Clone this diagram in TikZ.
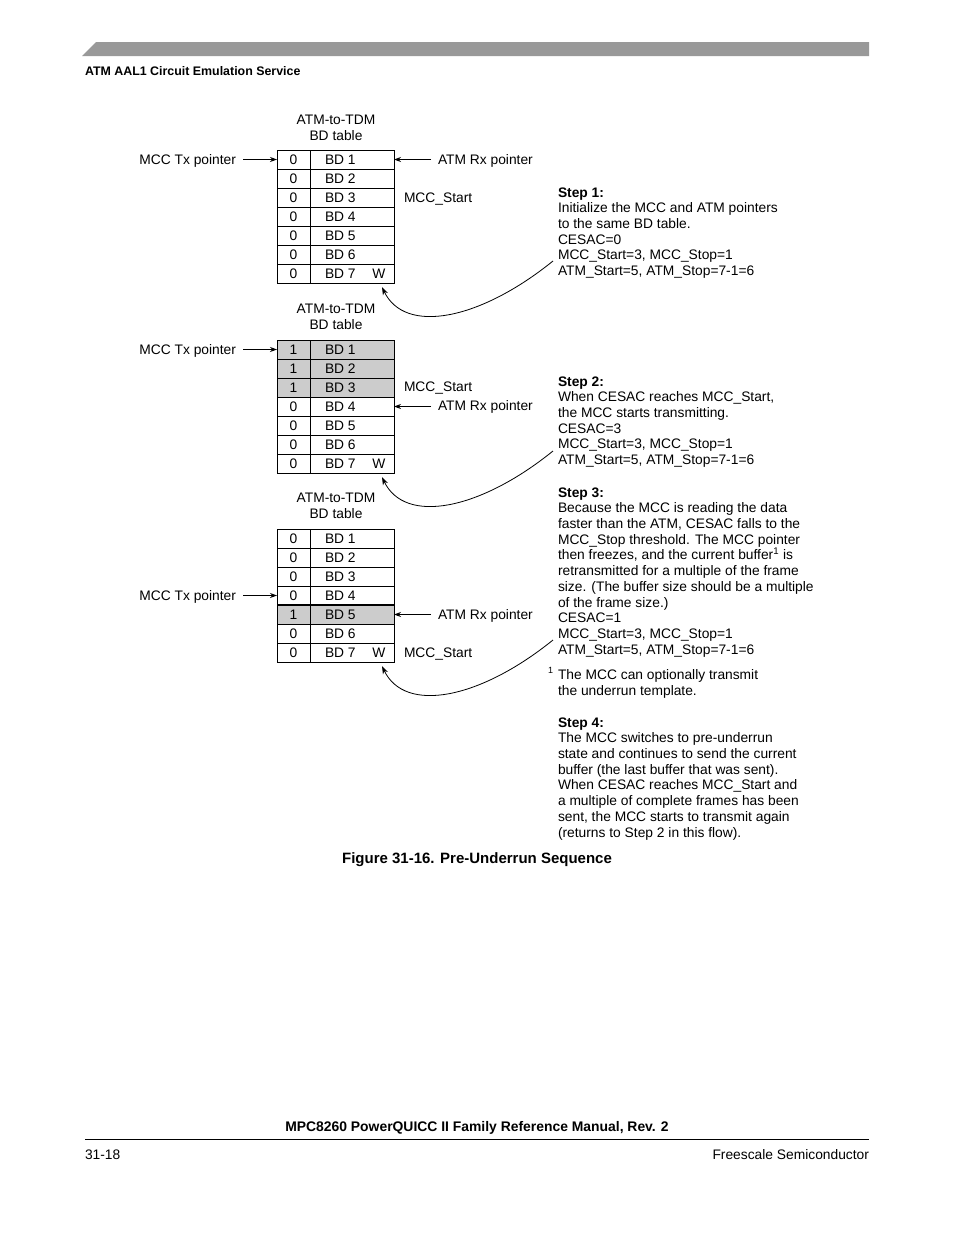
\documentclass[tikz,border=0pt]{standalone}
\usepackage{fontspec}
\setmainfont{Liberation Sans}
\usetikzlibrary{arrows.meta}
\definecolor{rowgray}{HTML}{CCCCCC}
\definecolor{bargray}{HTML}{999999}
\begin{document}
\begin{tikzpicture}[x=1pt,y=-1pt,
  font=\fontsize{13.8}{15.7}\selectfont,
  every node/.style={inner sep=0pt, outer sep=0pt},
  rowbox/.style={draw, line width=0.8pt, minimum width=117pt, minimum height=19pt},
  txt/.style={anchor=base},
  bdtxt/.style={anchor=base west},
  lbl/.style={anchor=base west},
  lble/.style={anchor=base east},
  hdr/.style={align=center},
  steptxt/.style={anchor=north west, align=left},
  arr/.style={line width=0.8pt, -{Stealth[length=7pt,width=5pt]}},
  curv/.style={line width=0.8pt, -{Stealth[length=8pt,width=5.5pt]}}
]
\useasboundingbox[fill=white] (0,0) rectangle (954,1235);

% page header
\fill[bargray] (82,56) -- (96,42) -- (869,42) -- (869,56) -- cycle;
\node[anchor=base west, font=\fontsize{12.4}{14}\selectfont\bfseries] (pghead) at (85,75.5) {ATM AAL1 Circuit Emulation Service};

% ---------- Table 1 ----------
\node[hdr] (h1) at (336,127.5) {ATM-to-TDM\\BD table};
\foreach \i/\v/\f in {1/0/white,2/0/white,3/0/white,4/0/white,5/0/white,6/0/white,7/0/white}{
  \pgfmathsetmacro\yc{150+19*\i-9.5}
  \node[rowbox, fill=\f] (a\i) at (335.5,\yc) {};
  \node[txt] at (293.5,\yc+5) {\v};
  \node[bdtxt] at (325,\yc+5) {BD \i};
}
\draw[line width=0.8pt] (a1.north west -| 310,0) -- (a7.south west -| 310,0);
\node[txt] (w1) at (379,278.5) {W};
\node[lble] (mtx1) at (236,164.5) {MCC Tx pointer};
\draw[arr] ([xshift=7pt]mtx1.east |- a1.west) -- (a1.west);
\node[lbl] (arx1) at (438,164.5) {ATM Rx pointer};
\draw[arr] ([xshift=-7pt]arx1.west |- a1.east) -- (a1.east);
\node[lbl] (ms1) at (404,202.5) {MCC\_Start};

% ---------- Table 2 ----------
\node[hdr] (h2) at (336,316.5) {ATM-to-TDM\\BD table};
\foreach \i/\v/\f in {1/1/rowgray,2/1/rowgray,3/1/rowgray,4/0/white,5/0/white,6/0/white,7/0/white}{
  \pgfmathsetmacro\yc{340+19*\i-9.5}
  \node[rowbox, fill=\f] (b\i) at (335.5,\yc) {};
  \node[txt] at (293.5,\yc+5) {\v};
  \node[bdtxt] at (325,\yc+5) {BD \i};
}
\draw[line width=0.8pt] (b1.north west -| 310,0) -- (b7.south west -| 310,0);
\node[txt] (w2) at (379,468.5) {W};
\node[lble] (mtx2) at (236,354.5) {MCC Tx pointer};
\draw[arr] ([xshift=7pt]mtx2.east |- b1.west) -- (b1.west);
\node[lbl] (ms2) at (404,391.5) {MCC\_Start};
\node[lbl] (arx2) at (438,410.5) {ATM Rx pointer};
\draw[arr] ([xshift=-7pt]arx2.west |- b4.east) -- (b4.east);

% ---------- Table 3 ----------
\node[hdr] (h3) at (336,505.5) {ATM-to-TDM\\BD table};
\foreach \i/\v/\f in {1/0/white,2/0/white,3/0/white,4/0/white,5/1/rowgray,6/0/white,7/0/white}{
  \pgfmathsetmacro\yc{529+19*\i-9.5}
  \node[rowbox, fill=\f] (c\i) at (335.5,\yc) {};
  \node[txt] at (293.5,\yc+5) {\v};
  \node[bdtxt] at (325,\yc+5) {BD \i};
}
\draw[line width=0.8pt] (c1.north west -| 310,0) -- (c7.south west -| 310,0);
\draw[line width=1.8pt] (c5.north west) -- (c5.north east);
\node[txt] (w3) at (379,657.5) {W};
\node[lble] (mtx3) at (236,600.5) {MCC Tx pointer};
\draw[arr] ([xshift=7pt]mtx3.east |- c4.west) -- (c4.west);
\node[lbl] (arx3) at (438,619.5) {ATM Rx pointer};
\draw[arr] ([xshift=-7pt]arx3.west |- c5.east) -- (c5.east);
\node[lbl] (ms3) at (404,657.5) {MCC\_Start};

% ---------- Steps ----------
\node[steptxt] (s1) at (558,187.5) {\textbf{Step 1:}\\Initialize the MCC and ATM pointers\\to the same BD table.\\CESAC=0\\MCC\_Start=3, MCC\_Stop=1\\ATM\_Start=5, ATM\_Stop=7-1=6};
\node[steptxt] (s2) at (558,376.5) {\textbf{Step 2:}\\When CESAC reaches MCC\_Start,\\the MCC starts transmitting.\\CESAC=3\\MCC\_Start=3, MCC\_Stop=1\\ATM\_Start=5, ATM\_Stop=7-1=6};
\node[steptxt] (s3) at (558,487.5) {\textbf{Step 3:}\\Because the MCC is reading the data\\faster than the ATM, CESAC falls to the\\MCC\_Stop threshold. The MCC pointer\\then freezes, and the current buffer\textsuperscript{1} is\\retransmitted for a multiple of the frame\\size. (The buffer size should be a multiple\\of the frame size.)\\CESAC=1\\MCC\_Start=3, MCC\_Stop=1\\ATM\_Start=5, ATM\_Stop=7-1=6};
\node[anchor=base west, font=\fontsize{9}{10}\selectfont] (fn1) at (548,673) {1};
\node[steptxt] (fn) at (558,669.5) {The MCC can optionally transmit\\the underrun template.};
\node[steptxt] (s4) at (558,717.5) {\textbf{Step 4:}\\The MCC switches to pre-underrun\\state and continues to send the current\\buffer (the last buffer that was sent).\\When CESAC reaches MCC\_Start and\\a multiple of complete frames has been\\sent, the MCC starts to transmit again\\(returns to Step 2 in this flow).};

% ---------- curved connectors ----------
\coordinate (k1) at (553,261);
\coordinate (k2) at (553,451);
\coordinate (k3) at (553,640);
\draw[curv] (k1) .. controls (480,320) and (405,335) .. ([shift={(-12,4)}]a7.south east);
\draw[curv] (k2) .. controls (480,510) and (405,525) .. ([shift={(-12,4)}]b7.south east);
\draw[curv] (k3) .. controls (480,699) and (405,714) .. ([shift={(-12,4)}]c7.south east);

% caption
\node[anchor=base, font=\fontsize{15}{17}\selectfont\bfseries] (cap) at (477,863.5) {Figure 31-16. Pre-Underrun Sequence};

% page footer
\node[anchor=base, font=\fontsize{13.9}{16}\selectfont\bfseries] (foot) at (477,1131) {MPC8260 PowerQUICC II Family Reference Manual, Rev. 2};
\draw[line width=0.9pt] (85,1139.5) -- (869,1139.5);
\node[anchor=base west] (pg) at (85,1159) {31-18};
\node[anchor=base east] (fs) at (869,1159) {Freescale Semiconductor};
\end{tikzpicture}
\end{document}
